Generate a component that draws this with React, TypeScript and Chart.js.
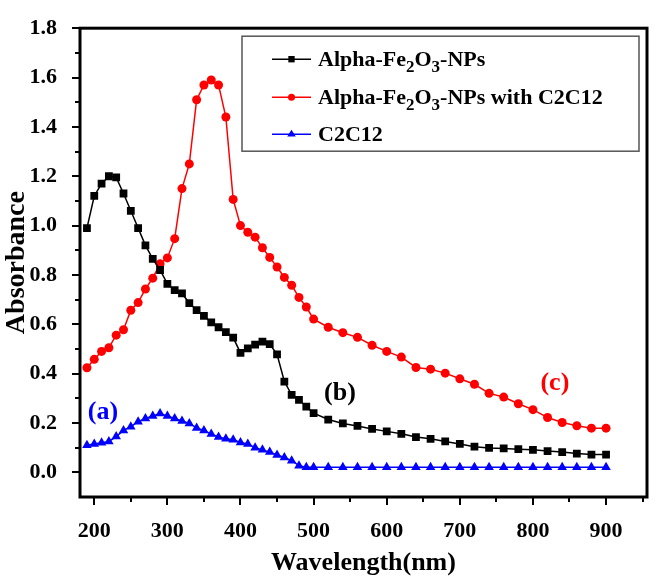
import React, { useEffect, useRef } from 'react';
import { Chart, registerables } from 'chart.js';

Chart.register(...registerables);

const wavelengths = [
  190, 200, 210, 220, 230, 240, 250, 260, 270, 280, 290, 300, 310, 320, 330, 340,
  350, 360, 370, 380, 390, 400, 410, 420, 430, 440, 450, 460, 470, 480, 490, 500,
  520, 540, 560, 580, 600, 620, 640, 660, 680, 700, 720, 740, 760, 780, 800, 820,
  840, 860, 880, 900,
];

const alphaFe2O3 = [
  0.99, 1.12, 1.17, 1.2, 1.195, 1.13, 1.06, 0.99, 0.92, 0.865, 0.82, 0.764, 0.738, 0.725, 0.686, 0.657,
  0.634, 0.608, 0.588, 0.568, 0.546, 0.484, 0.502, 0.518, 0.53, 0.52, 0.478, 0.368, 0.314, 0.294, 0.266, 0.24,
  0.214, 0.198, 0.188, 0.176, 0.166, 0.156, 0.143, 0.136, 0.125, 0.115, 0.104, 0.099, 0.097, 0.094, 0.091, 0.086,
  0.082, 0.076, 0.072, 0.072,
];

const alphaFe2O3WithC2C12 = [
  0.424, 0.458, 0.49, 0.505, 0.556, 0.578, 0.657, 0.688, 0.743, 0.787, 0.845, 0.869, 0.947, 1.15, 1.25, 1.51,
  1.57, 1.59, 1.57, 1.44, 1.106, 1.0, 0.973, 0.953, 0.91, 0.871, 0.832, 0.79, 0.758, 0.709, 0.67, 0.621,
  0.588, 0.566, 0.547, 0.515, 0.49, 0.467, 0.425, 0.418, 0.402, 0.379, 0.357, 0.32, 0.305, 0.278, 0.254, 0.222,
  0.202, 0.189, 0.179, 0.179,
];

const c2c12 = [
  0.11, 0.115, 0.12, 0.125, 0.145, 0.17, 0.185, 0.205, 0.218, 0.228, 0.238, 0.228, 0.218, 0.208, 0.198, 0.18,
  0.17, 0.155, 0.143, 0.136, 0.132, 0.121, 0.115, 0.1, 0.091, 0.082, 0.07, 0.06, 0.047, 0.027, 0.021, 0.021,
  0.021, 0.021, 0.021, 0.021, 0.021, 0.021, 0.021, 0.021, 0.021, 0.021, 0.021, 0.021, 0.021, 0.021, 0.021, 0.021,
  0.021, 0.021, 0.021, 0.021,
];

const seriesNames = ['Alpha-Fe\u2082O\u2083-NPs', 'Alpha-Fe\u2082O\u2083-NPs with C2C12', 'C2C12'];
const seriesColors = ['#000000', '#ff0000', '#0000ff'];
const seriesMarkers = ['rect', 'circle', 'triangle'];
const seriesMarkerRadius = [5.5, 4.5, 5.5];

const xMajorTicks = [200, 300, 400, 500, 600, 700, 800, 900];
const xMinorTicks = [250, 350, 450, 550, 650, 750, 850, 950];
const yMajorTicks = [0, 0.2, 0.4, 0.6, 0.8, 1.0, 1.2, 1.4, 1.6, 1.8];
const yMinorTicks = [0.1, 0.3, 0.5, 0.7, 0.9, 1.1, 1.3, 1.5, 1.7];

const xAxisTitle = 'Wavelength(nm)';
const yAxisTitle = 'Absorbance';

const annotationTexts = ['(a)', '(b)', '(c)'];
const annotationX = [212, 536, 830];
const annotationY = [0.243, 0.32, 0.36];
const annotationColors = ['#0000ff', '#000000', '#ff0000'];

const FONT = "'Liberation Serif', 'Times New Roman', serif";

function drawMarker(ctx: CanvasRenderingContext2D, kind: string, x: number, y: number, r: number, color: string) {
  ctx.fillStyle = color;
  ctx.beginPath();
  if (kind === 'rect') {
    const s = r * Math.SQRT1_2;
    ctx.rect(x - s, y - s, 2 * s, 2 * s);
  } else if (kind === 'circle') {
    ctx.arc(x, y, r, 0, Math.PI * 2);
  } else {
    const h = r * 1.5;
    ctx.moveTo(x, y - r);
    ctx.lineTo(x + r * 0.95, y + h - r);
    ctx.lineTo(x - r * 0.95, y + h - r);
    ctx.closePath();
  }
  ctx.fill();
}

function drawRichText(ctx: CanvasRenderingContext2D, text: string, x: number, baseline: number) {
  let cx = x;
  for (const ch of text) {
    const code = ch.charCodeAt(0);
    if (code >= 0x2080 && code <= 0x2089) {
      const d = String.fromCharCode(48 + code - 0x2080);
      ctx.font = `bold 17px ${FONT}`;
      ctx.fillText(d, cx, baseline + 6);
      cx += ctx.measureText(d).width;
    } else {
      ctx.font = `bold 22px ${FONT}`;
      ctx.fillText(ch, cx, baseline);
      cx += ctx.measureText(ch).width;
    }
  }
}

const decorPlugin = {
  id: 'decor',
  afterDraw(chart: any) {
    const { ctx, chartArea: a, scales } = chart;
    const xs = scales.x;
    const ys = scales.y;
    ctx.save();
    ctx.strokeStyle = '#000';
    ctx.lineWidth = 3;
    ctx.strokeRect(a.left, a.top, a.right - a.left, a.bottom - a.top);
    ctx.lineWidth = 2;
    ctx.beginPath();
    xMajorTicks.forEach((v) => {
      const p = Math.round(xs.getPixelForValue(v));
      ctx.moveTo(p, a.bottom);
      ctx.lineTo(p, a.bottom + 8);
    });
    xMinorTicks.forEach((v) => {
      const p = Math.round(xs.getPixelForValue(v));
      ctx.moveTo(p, a.bottom);
      ctx.lineTo(p, a.bottom + 5);
    });
    yMajorTicks.forEach((v) => {
      const p = Math.round(ys.getPixelForValue(v));
      ctx.moveTo(a.left, p);
      ctx.lineTo(a.left - 8, p);
    });
    yMinorTicks.forEach((v) => {
      const p = Math.round(ys.getPixelForValue(v));
      ctx.moveTo(a.left, p);
      ctx.lineTo(a.left - 5, p);
    });
    ctx.stroke();

    const lw = 397;
    const lh = 115;
    const lx = a.right - 8 - lw;
    const ly = a.top + 8;
    ctx.fillStyle = '#fff';
    ctx.fillRect(lx, ly, lw, lh);
    ctx.strokeStyle = '#555';
    ctx.lineWidth = 1.5;
    ctx.strokeRect(lx, ly, lw, lh);
    const rowCenters = [23, 61, 98];
    seriesNames.forEach((name, i) => {
      const cy = ly + rowCenters[i];
      ctx.strokeStyle = seriesColors[i];
      ctx.lineWidth = 1.5;
      ctx.beginPath();
      ctx.moveTo(lx + 30, cy);
      ctx.lineTo(lx + 69, cy);
      ctx.stroke();
      drawMarker(ctx, seriesMarkers[i], lx + 49.5, cy, seriesMarkerRadius[i] - 1, seriesColors[i]);
      ctx.fillStyle = '#000';
      ctx.textBaseline = 'alphabetic';
      ctx.textAlign = 'left';
      drawRichText(ctx, name, lx + 76, cy + 7);
    });

    ctx.font = `bold 26px ${FONT}`;
    ctx.textAlign = 'center';
    ctx.textBaseline = 'middle';
    annotationTexts.forEach((t, i) => {
      ctx.fillStyle = annotationColors[i];
      ctx.fillText(t, xs.getPixelForValue(annotationX[i]), ys.getPixelForValue(annotationY[i]));
    });
    ctx.restore();
  },
};

export default function App() {
  const canvasRef = useRef<HTMLCanvasElement | null>(null);

  useEffect(() => {
    const canvas = canvasRef.current;
    if (!canvas) return;
    const allSeries = [alphaFe2O3, alphaFe2O3WithC2C12, c2c12];
    const chart = new Chart(canvas, {
      type: 'line',
      data: {
        datasets: allSeries.map((vals, i) => ({
          label: seriesNames[i],
          data: wavelengths.map((w, j) => ({ x: w, y: vals[j] })),
          borderColor: seriesColors[i],
          backgroundColor: seriesColors[i],
          borderWidth: 1.5,
          pointStyle: seriesMarkers[i] as any,
          pointRadius: seriesMarkerRadius[i],
          pointBorderWidth: 0,
          pointBackgroundColor: seriesColors[i],
          tension: 0,
          fill: false,
        })),
      },
      options: {
        animation: false,
        responsive: false,
        devicePixelRatio: 1,
        layout: { padding: { left: 0, right: 7, top: 12, bottom: 0 } },
        plugins: {
          legend: { display: false },
          tooltip: { enabled: false },
        },
        scales: {
          x: {
            type: 'linear',
            min: 180.5,
            max: 956,
            afterBuildTicks: (s: any) => {
              s.ticks = xMajorTicks.map((v) => ({ value: v }));
            },
            afterFit: (s: any) => {
              s.height = 84;
            },
            grid: { display: false },
            border: { display: false },
            ticks: {
              color: '#000',
              padding: 13,
              maxRotation: 0,
              autoSkip: false,
              font: { family: FONT, size: 22, weight: 'bold' },
            },
            title: {
              display: true,
              text: xAxisTitle,
              color: '#000',
              font: { family: FONT, size: 26, weight: 'bold' },
              padding: { top: 0, bottom: 2 },
            },
          },
          y: {
            type: 'linear',
            min: -0.1,
            max: 1.8,
            afterBuildTicks: (s: any) => {
              s.ticks = yMajorTicks.map((v) => ({ value: v }));
            },
            afterFit: (s: any) => {
              s.width = 80;
            },
            grid: { display: false },
            border: { display: false },
            ticks: {
              color: '#000',
              padding: 15,
              autoSkip: false,
              callback: (v: any) => Number(v).toFixed(1),
              font: { family: FONT, size: 22, weight: 'bold' },
            },
            title: {
              display: true,
              text: yAxisTitle,
              color: '#000',
              font: { family: FONT, size: 28, weight: 'bold' },
              padding: { top: 0, bottom: 0 },
            },
          },
        },
      },
      plugins: [decorPlugin],
    });
    return () => chart.destroy();
  }, []);

  return (
    <div style={{ position: 'absolute', left: 0, top: 0, width: 654, height: 581, background: '#fff' }}>
      <canvas ref={canvasRef} width={654} height={581} style={{ display: 'block' }} />
    </div>
  );
}
